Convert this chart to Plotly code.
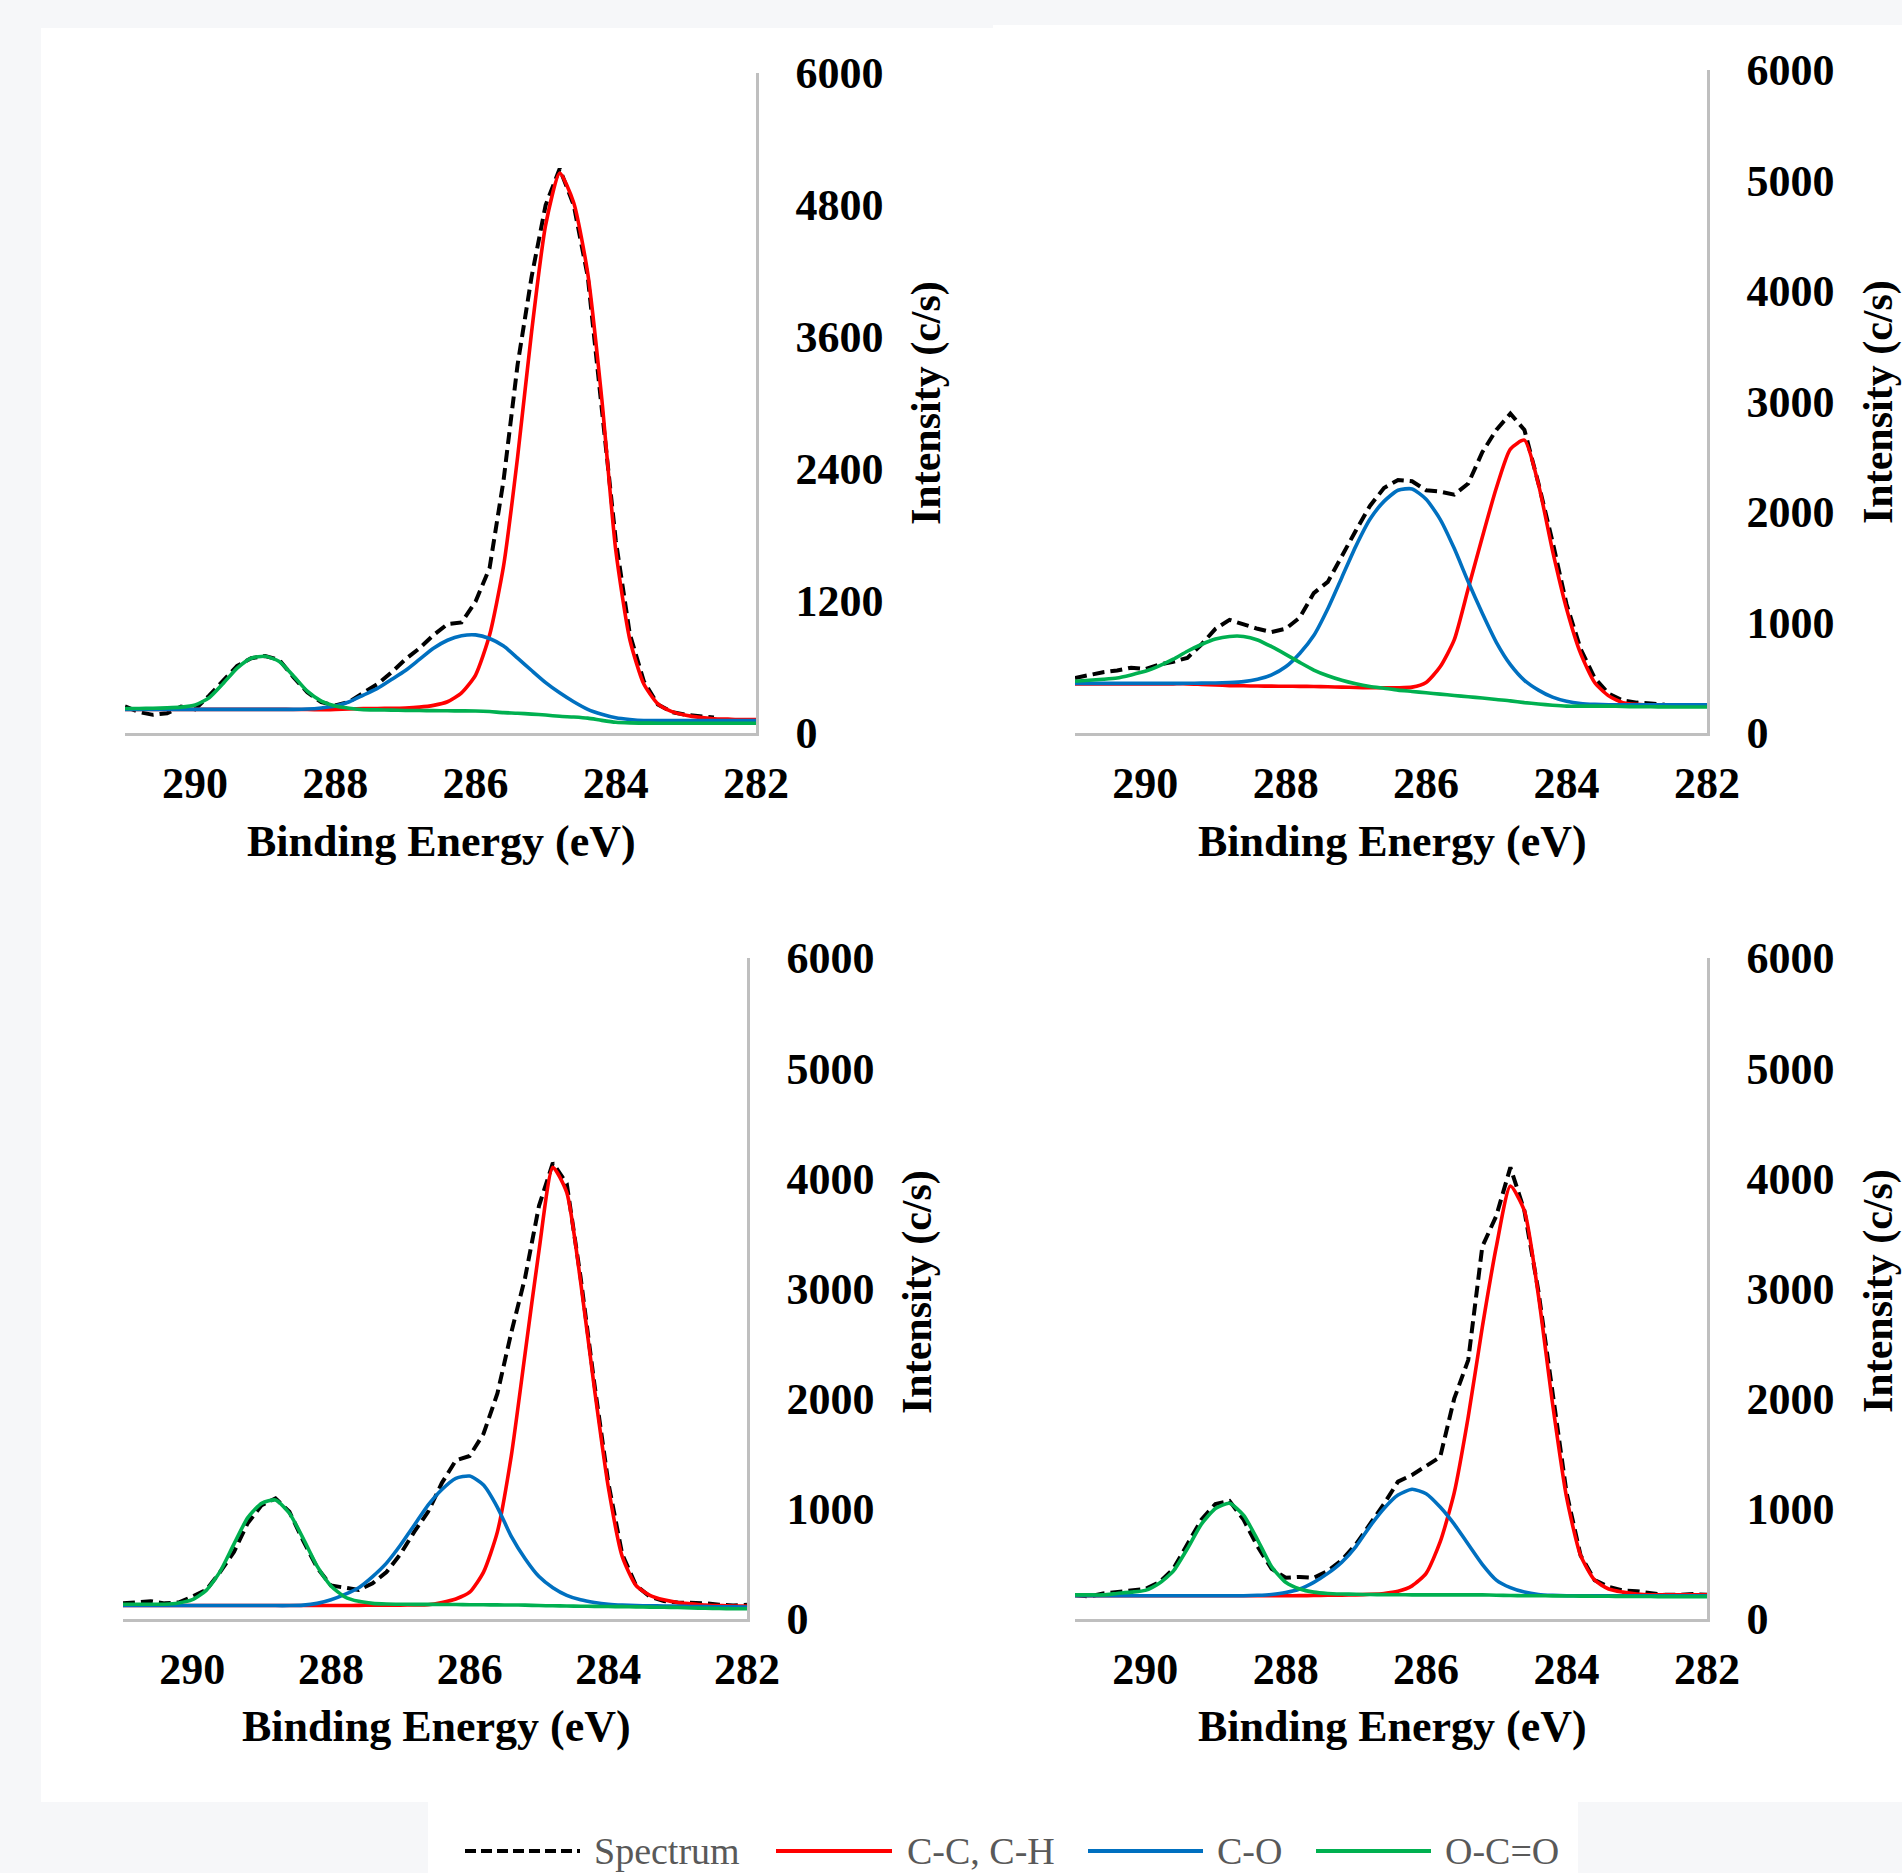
import plotly.graph_objects as go

# ---------------- data ----------------
BE = [291.0, 290.8, 290.6, 290.4, 290.2, 290.0, 289.8, 289.6, 289.4, 289.2,
      289.0, 288.8, 288.6, 288.4, 288.2, 288.0, 287.8, 287.6, 287.4, 287.2,
      287.0, 286.8, 286.6, 286.4, 286.2, 286.0, 285.8, 285.6, 285.4, 285.2,
      285.0, 284.8, 284.6, 284.4, 284.2, 284.0, 283.8, 283.6, 283.4, 283.2,
      283.0, 282.8, 282.6, 282.4, 282.2, 282.0]

X_TICKS = [290, 288, 286, 284, 282]
Y_TICKS_A = [0, 1200, 2400, 3600, 4800, 6000]
Y_TICKS_B = [0, 1000, 2000, 3000, 4000, 5000, 6000]

SERIES_NAMES = ["Spectrum", "C-C, C-H", "C-O", "O-C=O"]

# top-left panel
TL_spectrum = [243, 190, 165, 180, 240, 215, 340, 480, 610, 680,
               700, 665, 510, 370, 280, 250, 285, 365, 445, 550,
               670, 770, 890, 990, 1005, 1195, 1500, 2300, 3350, 4150,
               4800, 5130, 4800, 4150, 2950, 1750, 900, 470, 260, 190,
               165, 155, 140, None, None, None]
TL_cc = [215, 215, 215, 215, 215, 215, 215, 215, 215, 215,
         215, 215, 214, 213, 212, 215, 219, 222, 223, 224,
         227, 235, 251, 284, 365, 527, 890, 1520, 2510, 3650,
         4620, 5090, 4820, 4180, 3040, 1660, 850, 445, 265, 195,
         162, 142, 130, 126, 122, 122]
TL_co = [215, 215, 215, 215, 215, 215, 215, 215, 215, 215,
         215, 215, 215, 218, 228, 245, 284, 345, 405, 486,
         568, 669, 770, 843, 884, 892, 859, 790, 681, 568,
         458, 365, 284, 215, 170, 138, 122, 113, 113, 113,
         113, 113, 113, 113, 113, 113]
TL_oco = [223, 223, 225, 228, 235, 255, 320, 450, 590, 680,
          697, 650, 520, 380, 290, 245, 225, 212, 210, 208,
          205, 204, 203, 202, 201, 200, 195, 185, 180, 172,
          163, 152, 145, 135, 115, 98, 92, 90, 89, 89,
          89, 89, 89, 89, 89, 89]

# top-right panel
TR_spectrum = [498, 526, 550, 566, 591, 579, 619, 645, 680, 801,
               943, 1024, 983, 943, 914, 943, 1044, 1266, 1368, 1610,
               1833, 2055, 2217, 2290, 2278, 2197, 2185, 2157, 2258, 2541,
               2743, 2890, 2743, 2258, 1732, 1165, 761, 498, 356, 295,
               275, 267, 255, None, None, None]
TR_cc = [445, 445, 445, 445, 445, 445, 445, 445, 445, 440,
         435, 429, 427, 425, 424, 423, 422, 421, 418, 415,
         412, 410, 409, 409, 415, 457, 599, 842, 1307, 1772,
         2217, 2570, 2650, 2250, 1651, 1125, 720, 457, 336, 275,
         259, 251, 251, 251, 251, 251]
TR_co = [449, 449, 449, 449, 449, 449, 449, 449, 450, 451,
         453, 457, 465, 486, 526, 599, 720, 882, 1125, 1408,
         1691, 1934, 2096, 2197, 2209, 2116, 1934, 1671, 1368, 1084,
         821, 619, 477, 388, 324, 287, 267, 259, 255, 255,
         255, 255, 255, 255, 255, 255]
TR_oco = [469, 477, 486, 498, 526, 558, 607, 668, 740, 801,
          850, 874, 874, 842, 781, 712, 639, 570, 518, 477,
          445, 421, 405, 388, 376, 364, 352, 340, 328, 316,
          303, 291, 275, 263, 251, 243, 243, 243, 243, 240,
          238, 237, 236, 235, 235, 235]

# bottom-left panel
BL_spectrum = [142, 150, 162, 142, 150, 203, 264, 426, 608, 872,
               1034, 1095, 973, 709, 466, 304, 284, 264, 324, 426,
               588, 790, 973, 1236, 1439, 1480, 1682, 2047, 2600, 3100,
               3750, 4140, 3953, 3101, 2128, 1236, 588, 304, 203, 162,
               150, 150, 142, 130, 122, 130]
BL_cc = [122, 122, 122, 122, 122, 122, 122, 122, 122, 122,
         122, 122, 122, 122, 122, 122, 122, 124, 125, 126,
         126, 128, 130, 150, 182, 243, 426, 791, 1480, 2412,
         3345, 4100, 3872, 3061, 2088, 1196, 568, 304, 215, 174,
         150, 138, 126, 122, 118, 118]
BL_co = [122, 122, 122, 122, 122, 122, 122, 122, 122, 122,
         122, 122, 122, 126, 142, 174, 223, 284, 385, 507,
         669, 851, 1034, 1176, 1277, 1297, 1216, 1014, 750, 547,
         385, 284, 215, 174, 150, 134, 126, 122, 120, 118,
         116, 114, 112, 111, 110, 109]
BL_oco = [134, 134, 134, 134, 145, 175, 260, 430, 680, 920,
          1050, 1080, 960, 730, 480, 300, 200, 160, 142, 136,
          134, 133, 133, 132, 131, 130, 129, 128, 127, 126,
          122, 120, 118, 116, 115, 113, 112, 110, 108, 106,
          104, 100, 97, 95, 93, 93]

# bottom-right panel
BR_spectrum = [219, 203, 232, 244, 252, 272, 333, 455, 678, 902,
               1044, 1072, 902, 658, 455, 374, 382, 374, 435, 536,
               678, 861, 1044, 1247, 1308, 1389, 1470, 2000, 2350, 3380,
               3660, 4100, 3705, 2973, 2039, 1145, 577, 353, 292, 260,
               252, 232, 219, 219, 227, 219]
BR_cc = [211, 211, 211, 211, 211, 211, 211, 211, 211, 211,
         211, 211, 211, 211, 211, 211, 212, 213, 215, 217,
         219, 224, 232, 252, 301, 414, 699, 1145, 1836, 2648,
         3380, 3930, 3705, 2933, 1958, 1105, 577, 353, 272, 244,
         227, 219, 219, 219, 219, 219]
BR_co = [211, 211, 211, 211, 211, 211, 211, 211, 211, 211,
         211, 211, 211, 215, 223, 240, 272, 333, 414, 516,
         658, 841, 1003, 1125, 1178, 1137, 1016, 861, 678, 496,
         353, 284, 244, 223, 215, 211, 211, 211, 211, 211,
         211, 211, 211, 211, 211, 211]
BR_oco = [219, 219, 219, 232, 244, 260, 325, 435, 638, 861,
          1003, 1050, 942, 719, 475, 333, 272, 244, 232, 227,
          224, 222, 221, 220, 219, 219, 219, 219, 219, 219,
          216, 213, 211, 211, 210, 209, 208, 207, 206, 205,
          204, 204, 203, 203, 203, 203]

# ---------------- styling ----------------
W, H = 1902, 1873
def px(x):
    return x / W
def py(y):
    return 1 - y / H

COL_SPEC = "#000000"
COL_CC = "#ff0000"
COL_CO = "#0070c0"
COL_OCO = "#00b050"
AXIS_COL = "#bfbfbf"
SERIF = "Liberation Serif"
TICK_FONT = dict(family=SERIF, size=44, color="black", weight="bold")

panels = [
    dict(data=(TL_spectrum, TL_cc, TL_co, TL_oco), xpx=(125, 756), ypx=(73, 733),
         yt=Y_TICKS_A, xt=(441, 841), yti=(927, 403)),
    dict(data=(TR_spectrum, TR_cc, TR_co, TR_oco), xpx=(1075, 1707), ypx=(70, 733),
         yt=Y_TICKS_B, xt=(1392, 841), yti=(1878, 402)),
    dict(data=(BL_spectrum, BL_cc, BL_co, BL_oco), xpx=(123, 747), ypx=(958, 1619),
         yt=Y_TICKS_B, xt=(436, 1726), yti=(917, 1292)),
    dict(data=(BR_spectrum, BR_cc, BR_co, BR_oco), xpx=(1075, 1707), ypx=(958, 1619),
         yt=Y_TICKS_B, xt=(1392, 1726), yti=(1878, 1291)),
]

fig = go.Figure()
layout_axes = {}
annotations = []

for i, p in enumerate(panels):
    n = "" if i == 0 else str(i + 1)
    xa, ya = "x" + n, "y" + n
    spec, cc, co, oco = p["data"]
    fig.add_trace(go.Scatter(x=BE, y=spec, mode="lines", name=SERIES_NAMES[0],
                             line=dict(color=COL_SPEC, width=4, dash="12px,6px"),
                             xaxis=xa, yaxis=ya, showlegend=False))
    for vals, col, nm in ((cc, COL_CC, SERIES_NAMES[1]), (co, COL_CO, SERIES_NAMES[2]),
                          (oco, COL_OCO, SERIES_NAMES[3])):
        fig.add_trace(go.Scatter(x=BE, y=vals, mode="lines", name=nm,
                                 line=dict(color=col, width=3.6, shape="spline", smoothing=0.6),
                                 xaxis=xa, yaxis=ya, showlegend=False))
    layout_axes["xaxis" + n] = dict(
        domain=[px(p["xpx"][0]), px(p["xpx"][1])], range=[291, 282], autorange=False,
        tickvals=X_TICKS, showline=True, linecolor=AXIS_COL, linewidth=2.5,
        showgrid=False, zeroline=False, ticks="", tickfont=TICK_FONT,
        ticklabelstandoff=9, anchor=ya, automargin=False)
    layout_axes["yaxis" + n] = dict(
        domain=[py(p["ypx"][1]), py(p["ypx"][0])], range=[0, 6000], autorange=False,
        tickvals=p["yt"], side="right", showline=True, linecolor=AXIS_COL, linewidth=2.5,
        showgrid=False, zeroline=False, ticks="", tickfont=TICK_FONT,
        ticklabelstandoff=28, anchor=xa, automargin=False)
    annotations.append(dict(text="Binding Energy (eV)", xref="paper", yref="paper",
                            x=px(p["xt"][0]), y=py(p["xt"][1]), xanchor="center", yanchor="middle",
                            showarrow=False, font=dict(family=SERIF, size=44, color="black", weight="bold")))
    annotations.append(dict(text="Intensity (c/s)", xref="paper", yref="paper", textangle=-90,
                            x=px(p["yti"][0]), y=py(p["yti"][1]), xanchor="center", yanchor="middle",
                            showarrow=False, font=dict(family=SERIF, size=42, color="black", weight="bold")))

# background panels
shapes = [
    dict(type="rect", xref="paper", yref="paper", x0=px(41), x1=px(993), y0=py(1802), y1=py(28),
         fillcolor="white", line=dict(width=0), layer="below"),
    dict(type="rect", xref="paper", yref="paper", x0=px(993), x1=1, y0=py(1802), y1=py(25),
         fillcolor="white", line=dict(width=0), layer="below"),
    dict(type="rect", xref="paper", yref="paper", x0=px(428), x1=px(1578), y0=0, y1=py(1801),
         fillcolor="white", line=dict(width=0), layer="below"),
]

# manual legend (long line samples as in the reference)
LEG_Y = 1851
legend_items = [
    (SERIES_NAMES[0], COL_SPEC, "11px,5px", 465, 580, 592),
    (SERIES_NAMES[1], COL_CC, "solid", 776, 892, 905),
    (SERIES_NAMES[2], COL_CO, "solid", 1088, 1203, 1215),
    (SERIES_NAMES[3], COL_OCO, "solid", 1316, 1431, 1443),
]
for name, col, dash, x0, x1, xt in legend_items:
    shapes.append(dict(type="line", xref="paper", yref="paper", x0=px(x0), x1=px(x1),
                       y0=py(LEG_Y), y1=py(LEG_Y), line=dict(color=col, width=4, dash=dash)))
    annotations.append(dict(text=name, xref="paper", yref="paper", x=px(xt), y=py(LEG_Y),
                            xanchor="left", yanchor="middle", showarrow=False,
                            font=dict(family=SERIF, size=38, color="#595959")))

fig.update_layout(
    width=W, height=H, autosize=False,
    margin=dict(l=0, r=0, t=0, b=0, pad=0, autoexpand=False),
    paper_bgcolor="#f6f7f9", plot_bgcolor="rgba(0,0,0,0)",
    showlegend=False, shapes=shapes, annotations=annotations,
    **layout_axes,
)

fig.write_html("out.html", config={"displayModeBar": False},
               post_script="document.body.style.margin='0';document.body.style.overflow='hidden';")
